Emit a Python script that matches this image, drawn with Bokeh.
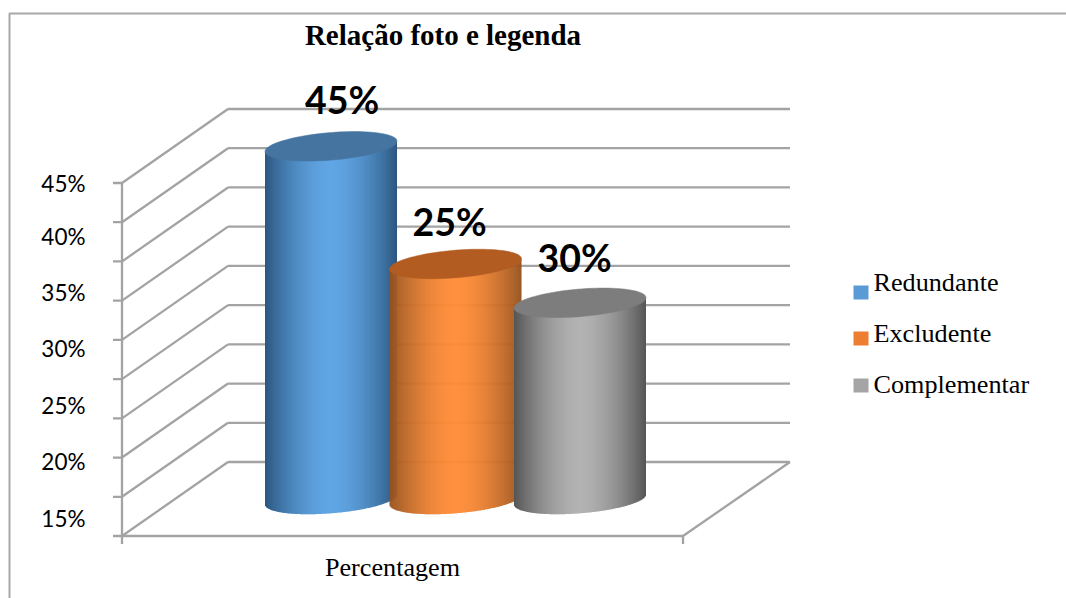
import numpy as np
from bokeh.plotting import figure
from bokeh.models import Range1d, ColumnDataSource
from bokeh.core.properties import value
from bokeh.embed import file_html
from bokeh.resources import INLINE

# ---- data ----
title = "Relação foto e legenda"
category = "Percentagem"
series = ["Redundante", "Excludente", "Complementar"]
bar_tops = [45.1, 35.1, 31.8]              # heights as drawn, on the axis scale
bar_labels = ["45%", "25%", "30%"]         # printed data labels
axis_min = 15
axis_max = 45
tick_labels = ["15%", "20%", "25%", "30%", "35%", "40%", "45%"]
n_grid = 9

# ---- styles ----
light = ["#60a6e4", "#ff8b35", "#b2b2b2"]
dark = ["#2c5680", "#94501c", "#555555"]
caps = ["#44749f", "#b25c22", "#7d7d7d"]
swatch = ["#5b9bd5", "#ed7d31", "#a5a5a5"]
grid_color = "#a3a3a3"

# ---- layout (page pixels) ----
W, H = 1066, 598
OX, OY = 0, 0
PX = 353 / (axis_max - axis_min)           # pixels per axis unit
BASE = 500                                 # base of the bars
FRONT = 535.5
BACK = 461.5
X_FRONT_L, X_FRONT_R = 121.5, 682.5
X_BACK_L, X_BACK_R = 227.5, 789.5
BAR_X0, BAR_STEP, BAR_A, BAR_B, BAR_SHEAR = 330.5, 124.5, 66, 13.8, 5.2
tick_label_px = [518, 461, 405, 348, 292, 236, 183]
bar_label_pos = [(341.5, 99), (449, 221), (574, 256.5)]
legend_y = [282, 333, 384]
swatch_y = [292, 338, 385]


def yv(px):
    return axis_min + (BASE - np.asarray(px, dtype=float)) / PX


def v2px(v):
    return BASE - (v - axis_min) * PX


p = figure(width=W, height=H, output_backend="svg", toolbar_location=None,
           x_range=Range1d(OX, OX + W), y_range=Range1d(yv(OY + H), yv(OY)),
           x_axis_location=None, y_axis_location=None, min_border=0,
           outline_line_color=None, background_fill_color="white")
p.grid.visible = False

# chart border (left and top only are in view)
p.line([9, 9, OX + W], yv([OY + H, 13, 13]), line_color="#a8a8a8", line_width=2)

# wall grid
step = 353 / n_grid
x0s, x1s, y0s, y1s = [], [], [], []
for i in range(n_grid + 1):
    fy, by = FRONT - i * step, BACK - i * step
    x0s += [X_FRONT_L - 9, X_FRONT_L, X_BACK_L]
    x1s += [X_FRONT_L, X_BACK_L, X_BACK_R]
    y0s += [fy, fy, by]
    y1s += [fy, by, by]
# floor and axes
x0s += [X_FRONT_L, X_FRONT_R, X_FRONT_L, X_FRONT_L, X_FRONT_R]
x1s += [X_FRONT_R, X_BACK_R, X_FRONT_L, X_FRONT_L, X_FRONT_R]
y0s += [FRONT, FRONT, FRONT - 353, FRONT, FRONT]
y1s += [FRONT, BACK, FRONT, FRONT + 8, FRONT + 8]
p.segment(x0s, yv(y0s), x1s, yv(y1s), line_color=grid_color, line_width=2.3)


def mix(a, b, f):
    ca = [int(a[i:i + 2], 16) for i in (1, 3, 5)]
    cb = [int(b[i:i + 2], 16) for i in (1, 3, 5)]
    return "#%02x%02x%02x" % tuple(int(round(u + (w - u) * f)) for u, w in zip(ca, cb))


# cylinders
for i, top in enumerate(bar_tops):
    cx = BAR_X0 + i * BAR_STEP
    top_px = v2px(top)
    xs = np.arange(cx - BAR_A, cx + BAR_A, 1.0)
    u = (xs + 0.5 - cx) / BAR_A
    arc = np.sqrt(np.clip(1 - u ** 2, 0, 1)) * BAR_B
    tilt = -u * BAR_SHEAR
    cols = [mix(dark[i], light[i], 1 - abs(k) ** 1.7) for k in u]
    src = ColumnDataSource(dict(
        left=xs, right=np.minimum(xs + 1.4, cx + BAR_A),
        top=yv(top_px + tilt + arc - 1),
        bottom=yv(BASE - 1 + tilt + arc),
        color=cols))
    p.quad(left="left", right="right", top="top", bottom="bottom",
           fill_color="color", line_color=None, source=src)
    t = np.linspace(0, 2 * np.pi, 90)
    ex = cx + BAR_A * np.cos(t)
    ey = top_px - BAR_SHEAR * np.cos(t) - BAR_B * np.sin(t)
    p.patch(ex, yv(ey), fill_color=caps[i], line_color=caps[i], line_width=0.5)

# data labels
for (x, y), lab in zip(bar_label_pos, bar_labels):
    p.text([x], [float(yv(y))], text=[lab], text_font=value("Lato"), text_font_style="bold",
           text_font_size=value("37.5px"), text_align="center", text_baseline="middle",
           text_color="#000000")

# value labels
p.text([85] * len(tick_labels), yv(tick_label_px), text=tick_labels, text_font=value("Lato"),
       text_font_size=value("22.5px"), text_align="right", text_baseline="middle",
       text_color="#000000")

# title and category
p.text([442.5], [float(yv(34.5))], text=[title], text_font=value("Liberation Serif"),
       text_font_style="bold", text_font_size=value("29px"), text_align="center",
       text_baseline="middle", text_color="#000000")
p.text([392], [float(yv(566.5))], text=[category], text_font=value("Liberation Serif"),
       text_font_size=value("26.2px"), text_align="center", text_baseline="middle",
       text_color="#000000")

# legend
for name, col, ty, sy in zip(series, swatch, legend_y, swatch_y):
    p.quad(left=[853], right=[868], top=[float(yv(sy - 7))], bottom=[float(yv(sy + 7))],
           fill_color=col, line_color=None)
    p.text([873], [float(yv(ty))], text=[name], text_font=value("Liberation Serif"),
           text_font_size=value("26.2px"), text_align="left", text_baseline="middle",
           text_color="#000000")

open("out.html", "w").write(file_html(p, INLINE))
